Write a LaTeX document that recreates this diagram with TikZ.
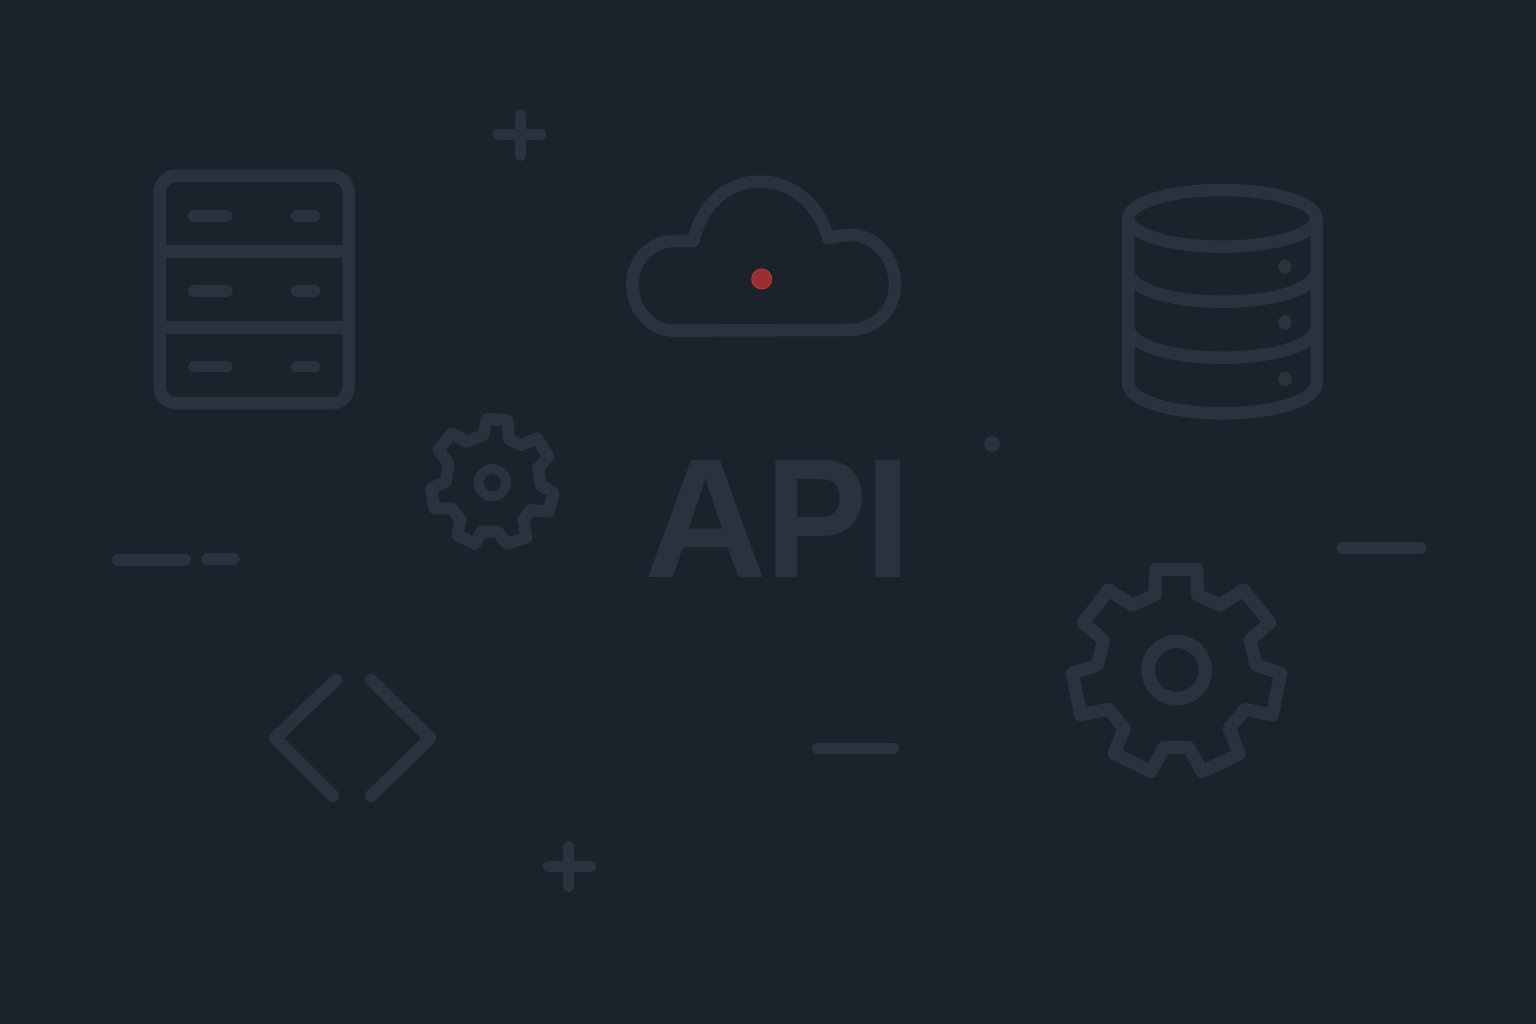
\documentclass[tikz,border=0pt]{standalone}
\usepackage{fontspec}
\setmainfont{Liberation Sans}
\definecolor{bgc}{HTML}{1A232C}
\definecolor{ink}{HTML}{28333E}
\definecolor{reddot}{HTML}{97302F}
\definecolor{rededge}{HTML}{BE3232}
\tikzset{
  icon/.style={draw=ink,line cap=round,line join=round,line width=#1},
  icon/.default=12.5pt,
  zoomed/.style={x=0.3333pt,y=-0.3333pt},
}
\begin{document}
\begin{tikzpicture}[x=1pt,y=-1pt]
\useasboundingbox (0,0) rectangle (1536,1024);
\fill[bgc] (0,0) rectangle (1536,1024);

% server rack
\begin{scope}[shift={(140,160)},zoomed]
\draw[icon] (59,97) arc[start angle=180,end angle=90,x radius=50,y radius=-50] -- (576,47)
  arc[start angle=90,end angle=0,x radius=50,y radius=-50] -- (626,680)
  arc[start angle=0,end angle=-90,x radius=50,y radius=-50] -- (109,730)
  arc[start angle=-90,end angle=-180,x radius=50,y radius=-50] -- cycle;
\draw[icon,line cap=butt] (59,275) -- (626,275);
\draw[icon,line cap=butt] (59,502) -- (626,502);
\foreach \y in {168,393,620}{
  \draw[icon=11.5pt] (162,\y) -- (261,\y);
  \draw[icon=11.5pt] (470,\y) -- (524,\y);
}
\end{scope}

% cloud
\begin{scope}[shift={(610,160)},zoomed]
\draw[icon] (190,512) -- (715,510)
  .. controls (795,510) and (855,450) .. (855,375)
  .. controls (855,290) and (795,225) .. (720,225)
  .. controls (700,225) and (680,229) .. (655,235)
  .. controls (625,130) and (545,65) .. (450,65)
  .. controls (350,65) and (275,135) .. (250,243)
  -- (190,243)
  .. controls (125,243) and (67,300) .. (67,375)
  .. controls (67,450) and (125,512) .. (190,512) -- cycle;
\end{scope}
\node[circle,fill=reddot,draw=rededge,line width=1pt,minimum size=20pt,inner sep=0pt] (alert) at (761.7,279) {};

% database
\begin{scope}[shift={(1110,170)},zoomed]
\draw[icon] (337,145) ellipse[x radius=282,y radius=85];
\draw[icon] (55,143) -- (55,640) .. controls (55,690) and (180,730) .. (337,730)
  .. controls (495,730) and (620,690) .. (620,640) -- (620,143);
\draw[icon] (55,310) .. controls (70,360) and (185,395) .. (337,395) .. controls (490,395) and (605,360) .. (620,310);
\draw[icon] (55,480) .. controls (70,528) and (185,563) .. (337,563) .. controls (490,563) and (605,528) .. (620,480);
\foreach \y in {290,457,627}{
  \fill[ink] (525,\y) ellipse[x radius=20,y radius=22];
}
\end{scope}

% small gear
\begin{scope}[shift={(410,400)},zoomed]
\draw[icon=12pt] (230,57) -- (292,60) -- (298,118) -- (335,135) -- (382,115) -- (415,170)
  -- (385,205) -- (392,255) -- (430,278) -- (417,335) -- (363,330) -- (340,360) -- (350,412)
  -- (292,432) -- (262,395) -- (215,395) -- (195,432) -- (142,405) -- (152,360) -- (125,325)
  -- (73,325) -- (63,265) -- (108,245) -- (115,190) -- (85,150) -- (125,100) -- (170,125)
  -- (220,105) -- cycle;
\draw[icon=10pt] (247,248) circle[radius=41];
\end{scope}

% large gear
\begin{scope}[shift={(1040,540)},zoomed]
\draw[icon=13pt] (347,88) -- (470,88) -- (473,165) -- (540,195) -- (610,150) -- (690,248) -- (630,300)
  -- (648,375) -- (722,400) -- (697,525) -- (615,508) -- (568,565) -- (597,642) -- (487,695)
  -- (445,622) -- (372,622) -- (333,695) -- (222,640) -- (253,565) -- (205,508) -- (122,525)
  -- (97,400) -- (173,375) -- (190,300) -- (130,248) -- (205,150) -- (278,195) -- (345,165) -- cycle;
\draw[icon=13.5pt] (410,390) circle[radius=86];
\end{scope}

% code brackets
\draw[icon] (336,680) -- (275,738) -- (333,796);
\draw[icon] (371,680) -- (430,738) -- (371,796);

% plus signs
\draw[icon=11pt] (498,134.5) -- (541,134.5);
\draw[icon=11pt] (520.5,114.5) -- (520.5,155.5);
\draw[icon=11pt] (548,866.5) -- (591,866.5);
\draw[icon=11pt] (568.7,846.5) -- (568.7,886.5);

% dashes
\draw[icon=12pt] (118,559.7) -- (185,559.7);
\draw[icon=11.5pt] (207,559) -- (234,559);
\draw[icon=11.5pt] (1342.5,548) -- (1420.5,548);
\draw[icon=11.5pt] (817.5,748.5) -- (893.5,748.5);

% dot
\fill[ink] (992,444) circle[radius=8];

% label
\node[text=ink,inner sep=0pt,anchor=base] (api) at (778,577)
  {\fontsize{170pt}{170pt}\selectfont\bfseries A\kern-2pt{\addfontfeature{FakeStretch=0.9}P}\kern-3pt I};
\end{tikzpicture}
\end{document}
